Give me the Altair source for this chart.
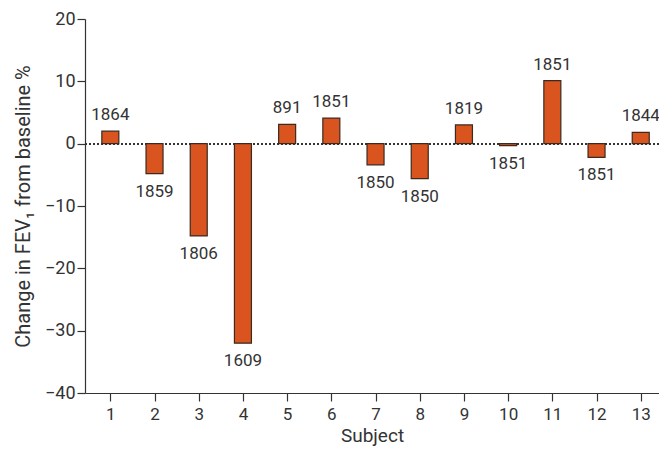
import altair as alt
import pandas as pd

subjects = list(range(1, 14))
changes = [2.0, -4.8, -14.8, -32.0, 3.1, 4.1, -3.4, -5.6, 3.0, -0.3, 10.1, -2.2, 1.8]
counts = ["1864", "1859", "1806", "1609", "891", "1851", "1850", "1850", "1819", "1851", "1851", "1851", "1844"]

df = pd.DataFrame({"subject": subjects, "change": changes, "n": counts})
df["zero"] = 0

FONT = "Roboto"
W = 574
H = 374
xscale = alt.Scale(domain=[0.54, 13.30], nice=False, zero=False)
yscale = alt.Scale(domain=[-40, 20], nice=False)

base = alt.Chart(df)

zero_line = base.mark_rule(color="#333333", strokeDash=[2, 2], strokeWidth=1.2).encode(
    y=alt.Y("zero:Q", scale=yscale),
    x=alt.value(0),
    x2=alt.value(W),
)

bars = base.mark_bar(size=17, color="#D9541E", stroke="#3a2a20", strokeWidth=1.2).encode(
    x=alt.X("subject:Q", scale=xscale,
            axis=alt.Axis(values=subjects, title="Subject", grid=False, format="d")),
    y=alt.Y("change:Q", scale=yscale,
            axis=alt.Axis(values=[-40, -30, -20, -10, 0, 10, 20], grid=False,
                          labelExpr="replace(datum.label, '-', '\u2212')",
                          title="Change in FEV\u2081 from baseline %")),
    y2="zero:Q",
)

pos_text = base.transform_filter("datum.change >= 0").mark_text(
    baseline="bottom", dy=-7, font=FONT, fontSize=17, color="#333333"
).encode(x=alt.X("subject:Q", scale=xscale), y=alt.Y("change:Q", scale=yscale), text="n:N")

neg_text = base.transform_filter("datum.change < 0").mark_text(
    baseline="top", dy=10, font=FONT, fontSize=17, color="#333333"
).encode(x=alt.X("subject:Q", scale=xscale), y=alt.Y("change:Q", scale=yscale), text="n:N")

chart = alt.layer(zero_line, bars, pos_text, neg_text).properties(
    width=W, height=H,
    autosize=alt.AutoSizeParams(type="none"),
    padding={"left": 77, "top": 11, "right": 0, "bottom": 54},
).configure_view(stroke=None).configure_axis(
    domainColor="#333333", tickColor="#333333", labelColor="#333333", titleColor="#333333",
    labelFont=FONT, titleFont=FONT, labelFontSize=18, titleFontSize=20,
    titleFontWeight="normal", domainWidth=1.2, tickWidth=1.2, tickSize=8,
).configure_axisX(labelPadding=5, titlePadding=4, labelFontSize=17, titleFontSize=19).configure_axisY(labelPadding=2, titlePadding=11)

chart.save("out.html", embed_options={"renderer": "svg", "actions": False})
